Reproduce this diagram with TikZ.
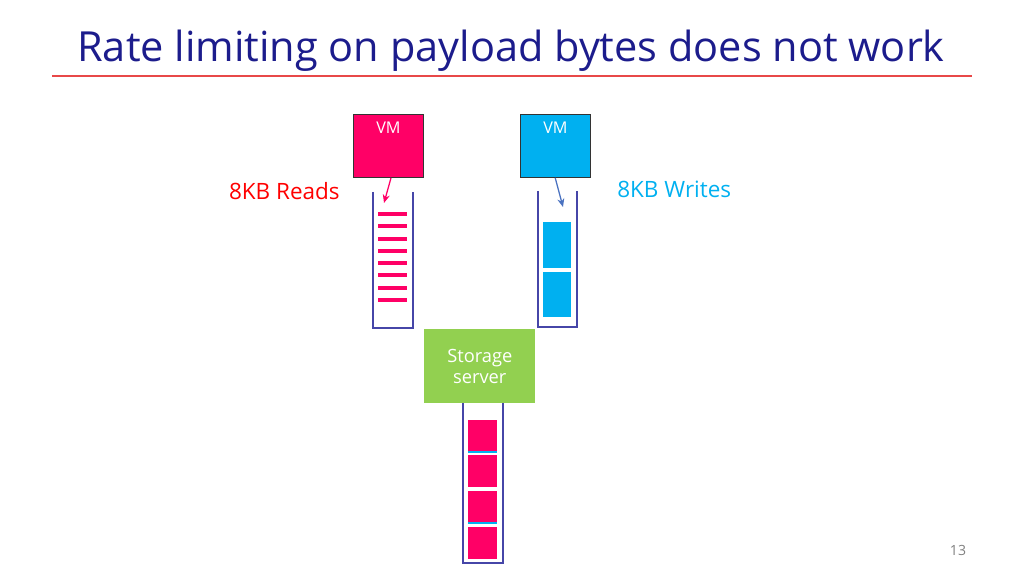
\documentclass[tikz,border=0pt]{standalone}
\usepackage{fontspec}
\setmainfont{Open Sans}
\usetikzlibrary{arrows.meta,positioning}

\definecolor{titleblue}{HTML}{1C1C8C}
\definecolor{rulered}{HTML}{E84848}
\definecolor{readpink}{HTML}{FF0066}
\definecolor{writecyan}{HTML}{00B0F0}
\definecolor{servergreen}{HTML}{92D050}
\definecolor{queueblue}{HTML}{4646A8}
\definecolor{arrowblue}{HTML}{4A72C0}

\tikzset{
  vmbox/.style={draw=black!80, line width=0.6pt, minimum width=1.75cm, minimum height=1.575cm,
    inner sep=0pt, anchor=north west},
  vmlabel/.style={text=white, font=\fontsize{11.5}{13}\selectfont},
  queue/.style={draw=queueblue, line width=0.9pt},
  rdbar/.style={fill=readpink, draw=none},
  inarrow/.style={line width=0.9pt, -{Stealth[length=6pt,width=5pt]}},
}

\begin{document}
\begin{tikzpicture}[x=0.025cm, y=-0.025cm]
    % --- 画布 ---
    \useasboundingbox (0,0) rectangle (1024,576);

    % --- 标题 ---
    \node[text=titleblue, font=\fontsize{29.5}{32}\selectfont, anchor=base] (title) at (511,62)
        {Rate limiting on payload bytes does not work};
    \draw[rulered, line width=0.8pt] (52,76) -- (972,76);

    % --- 两台 VM ---
    \node[vmbox, fill=readpink] (vmR) at (353,114) {};
    \node[vmlabel] at ([yshift=-0.35cm]vmR.north) {VM};
    \node[vmbox, fill=writecyan] (vmW) at (520,114) {};
    \node[vmlabel] at ([yshift=-0.35cm]vmW.north) {VM};

    % 标签
    \node[text=red, font=\fontsize{16}{19}\selectfont, anchor=east, inner sep=0pt] (rdlab) at (340,191) {8KB Reads};
    \node[text=writecyan, font=\fontsize{16}{19}\selectfont, anchor=west, inner sep=0pt] (wrlab) at (617,189) {8KB Writes};

    % --- 队列 (左: 读) ---
    \draw[queue] (373,192) -- (373,328) -- (413,328) -- (413,192);
    \foreach \y in {214,226.3,238.6,250.9,263.2,275.5,287.8,300.1}
        \fill[rdbar] (378,\y-2) rectangle (407,\y+2);
    \coordinate (rdin) at (384,203);
    \draw[inarrow, readpink] ([xshift=0.95cm]vmR.south west) -- (rdin);

    % --- 队列 (右: 写) ---
    \draw[queue] (538,191) -- (538,327) -- (577,327) -- (577,191);
    \fill[writecyan] (543,222) rectangle (571,268);
    \fill[writecyan] (543,272) rectangle (571,317);
    \coordinate (wrin) at (563,207);
    \draw[inarrow, arrowblue] ([xshift=0.88cm]vmW.south west) -- (wrin);

    % --- 存储服务器 ---
    \node[fill=servergreen, minimum width=2.775cm, minimum height=1.85cm, inner sep=0pt, anchor=north west,
        text=white, align=center, font=\fontsize{13}{15}\selectfont] (srv) at (424,329)
        {Storage\\server};

    % 服务器队列
    \draw[queue] (463,403) -- (463,563) -- (503,563) -- (503,403);
    \foreach \t/\b in {420/452,455/487,491/523,527/559}
        \fill[readpink] (468,\t) rectangle (497,\b);
    % 细蓝线
    \draw[writecyan, line width=1pt] (468,452) -- (497,452);
    \draw[writecyan, line width=1pt] (468,523) -- (497,523);

    % 页码
    \node[text=black!50, font=\fontsize{10}{12}\selectfont] (pgno) at (958,550) {13};

\end{tikzpicture}
\end{document}
